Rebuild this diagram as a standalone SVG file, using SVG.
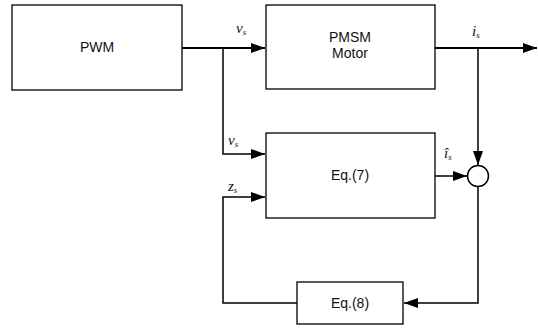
<svg xmlns="http://www.w3.org/2000/svg" width="538" height="328" viewBox="0 0 538 328">
<style>
.box{fill:#fff;stroke:#000;stroke-width:1.3}
.lbl{font-family:"Liberation Sans",Arial,sans-serif;font-size:14px;text-anchor:middle;fill:#111}
.var{font-family:"Liberation Serif","Times New Roman",serif;font-style:italic;font-size:15px;fill:#111}
.sub{font-size:9px}
.ln{fill:none;stroke:#000;stroke-width:1.5}
.thk{stroke-width:2.2}
</style>
<defs>
<marker id="ah" markerWidth="14" markerHeight="10" refX="14" refY="5" orient="auto" markerUnits="userSpaceOnUse">
<path d="M0,0 L14,5 L0,10 Z" fill="#000"/>
</marker>
</defs>
<rect width="538" height="328" fill="#fff"/>
<g id="connectors">
<path class="ln thk" d="M182,48 H265" marker-end="url(#ah)"/>
<path class="ln" d="M223,48 V154 H265" marker-end="url(#ah)"/>
<path class="ln thk" d="M435,48 H537" marker-end="url(#ah)"/>
<path class="ln" d="M478,48 V165" marker-end="url(#ah)"/>
<path class="ln" d="M435,176 H467" marker-end="url(#ah)"/>
<path class="ln" d="M478,187 V303 H404" marker-end="url(#ah)"/>
<path class="ln" d="M297,303 H223 V197 H265" marker-end="url(#ah)"/>
</g>
<g id="pwm">
<rect class="box" x="12" y="5" width="170" height="85"/>
<text class="lbl" x="97" y="52">PWM</text>
</g>
<g id="pmsm">
<rect class="box" x="266" y="5" width="169" height="84"/>
<text class="lbl" x="350" y="42">PMSM</text>
<text class="lbl" x="350" y="58">Motor</text>
</g>
<g id="eq7">
<rect class="box" x="266" y="133" width="169" height="85"/>
<text class="lbl" x="350" y="180">Eq.(7)</text>
</g>
<g id="eq8">
<rect class="box" x="297" y="282" width="106" height="42"/>
<text class="lbl" x="350" y="308">Eq.(8)</text>
</g>
<g id="sum">
<circle cx="478" cy="176" r="10.5" fill="#fff" stroke="#000" stroke-width="1.5"/>
</g>
<g id="labels">
<text class="var" x="236" y="33">v<tspan class="sub" dy="2">s</tspan></text>
<text class="var" x="228" y="145">v<tspan class="sub" dy="2">s</tspan></text>
<text class="var" x="228" y="191">z<tspan class="sub" dy="2">s</tspan></text>
<text class="var" x="472" y="36">i<tspan class="sub" dy="2">s</tspan></text>
<text class="var" x="444" y="158">î<tspan class="sub" dy="2">s</tspan></text>
</g>
</svg>
